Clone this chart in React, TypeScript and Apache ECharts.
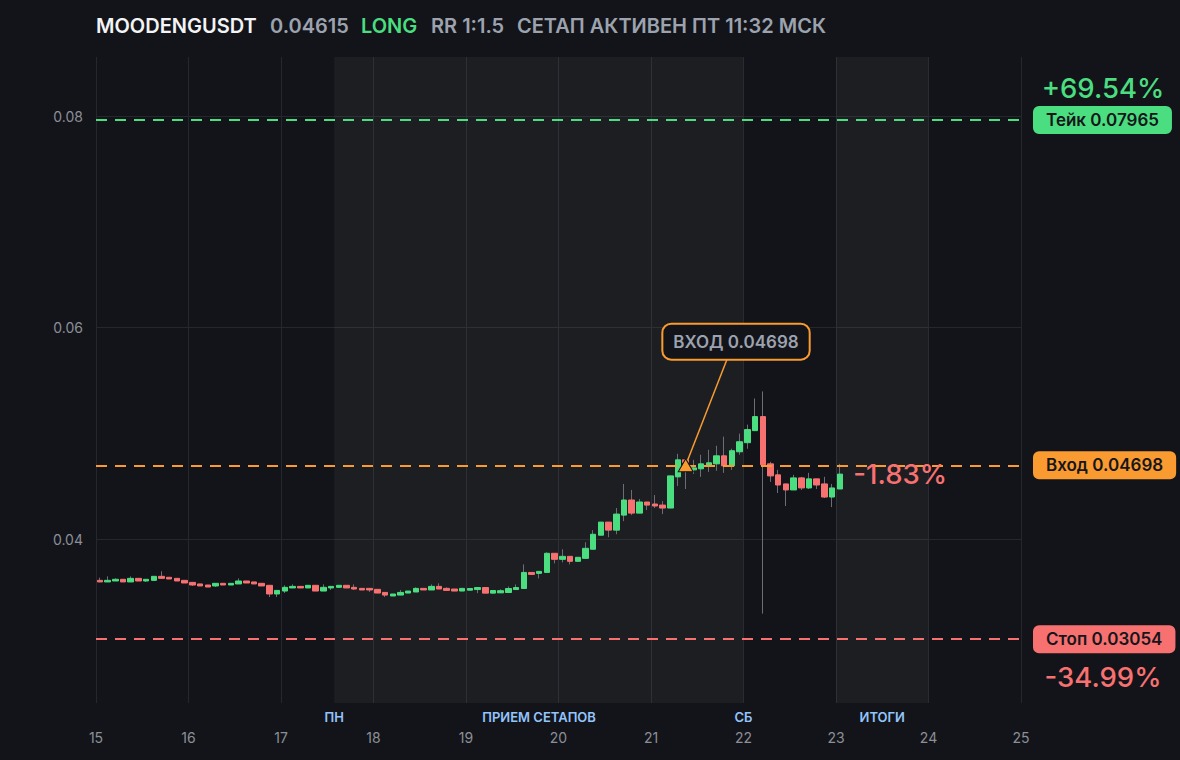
import React, { useEffect, useRef } from "react";
import * as echarts from "echarts";

// ---- header texts ----
const SYMBOL = "MOODENGUSDT";
const LAST_PRICE = 0.04615;
const SIDE = "LONG";
const RR_TEXT = "RR 1:1.5";
const STATUS_TEXT = "СЕТАП АКТИВЕН ПТ 11:32 МСК";

// ---- levels ----
const TAKE = 0.07965;
const ENTRY = 0.04698;
const STOP = 0.03054;
const TAKE_PCT = "+69.54%";
const STOP_PCT = "-34.99%";
const PNL_PCT = "-1.83%";
const ENTRY_CANDLE = 76; // 0-based index of the entry candle
const NOTE_ANCHOR = [21.822, 0.05702]; // where the entry note sits (day, price)
const NOTE_CENTER = [21.919, 0.05702];

// ---- axes ----
const DAY_MIN = 15;
const DAY_MAX = 25;
const PRICE_MIN = 0.0245;
const PRICE_MAX = 0.0856;
const priceTicks = [0.04, 0.06, 0.08];

// ---- sessions ----
const sessionAreas = [
  [17.575, 22],
  [23, 24],
];
const sessionMarkAt = [17.575, 19.79, 22, 23.5];
const sessionMarkText = ["ПН", "ПРИЕМ СЕТАПОВ", "СБ", "ИТОГИ"];

// ---- candles (2h) ----
const START_DAY = 15;
const CANDLE_HOURS = 2;
const opens = [
  0.0361, 0.03595, 0.03604, 0.0362, 0.03595, 0.03629, 0.03604, 0.0361, 0.03648, 0.03639, 0.03629, 0.0361,
  0.03591, 0.03576, 0.03566, 0.03557, 0.03582, 0.03566, 0.03576, 0.03604, 0.03595, 0.03582, 0.03563, 0.03481,
  0.03509, 0.03538, 0.03553, 0.03538, 0.03563, 0.03509, 0.03538, 0.03544, 0.03563, 0.03544, 0.03534, 0.03534,
  0.03525, 0.03496, 0.03462, 0.03471, 0.0349, 0.035, 0.03534, 0.03519, 0.03553, 0.03534, 0.03528, 0.03509,
  0.03517, 0.03523, 0.03542, 0.03489, 0.03492, 0.03495, 0.03523, 0.03533, 0.03685, 0.03676, 0.03685, 0.03866,
  0.03809, 0.03837, 0.0379, 0.03818, 0.03904, 0.04037, 0.04161, 0.04085, 0.04227, 0.0437, 0.04246, 0.04351,
  0.04332, 0.04322, 0.04294, 0.04589, 0.0475, 0.04655, 0.04665, 0.047, 0.04712, 0.04788, 0.04693, 0.04826,
  0.04912, 0.05026, 0.05159, 0.04712, 0.04608, 0.04522, 0.04465, 0.04579, 0.04484, 0.0457, 0.04522, 0.04398,
  0.04474,
];
const closes = [
  0.03595, 0.0361, 0.0362, 0.03595, 0.03629, 0.03604, 0.0362, 0.03648, 0.03629, 0.03623, 0.03604, 0.03585,
  0.03566, 0.03557, 0.03547, 0.03582, 0.03566, 0.03582, 0.03604, 0.03585, 0.03576, 0.03557, 0.03481, 0.03515,
  0.03544, 0.03553, 0.03538, 0.03563, 0.03509, 0.03544, 0.03553, 0.03563, 0.03538, 0.03528, 0.03519, 0.03519,
  0.0349, 0.03471, 0.03481, 0.03496, 0.03509, 0.03534, 0.03519, 0.03553, 0.03528, 0.03515, 0.03509, 0.03534,
  0.03533, 0.03542, 0.03489, 0.03514, 0.03512, 0.03533, 0.03542, 0.03685, 0.03666, 0.03695, 0.03866, 0.03809,
  0.03837, 0.0379, 0.03828, 0.03913, 0.04046, 0.04161, 0.04085, 0.04237, 0.0437, 0.04246, 0.04351, 0.04322,
  0.04313, 0.04294, 0.04598, 0.0475, 0.04725, 0.04674, 0.04712, 0.04722, 0.04788, 0.04693, 0.04836, 0.04921,
  0.05036, 0.05159, 0.04703, 0.04598, 0.04512, 0.04465, 0.04579, 0.04484, 0.0457, 0.04512, 0.04398, 0.04484,
  0.04615,
];
const lows = [
  0.03595, 0.03595, 0.03604, 0.03595, 0.03595, 0.03604, 0.03595, 0.0361, 0.03629, 0.03623, 0.03604, 0.03585,
  0.03557, 0.03557, 0.03547, 0.03547, 0.03566, 0.03566, 0.03576, 0.03585, 0.03576, 0.03557, 0.03452, 0.03452,
  0.0349, 0.03538, 0.03538, 0.03538, 0.03509, 0.03509, 0.03519, 0.03544, 0.03538, 0.03519, 0.03519, 0.035,
  0.0349, 0.03452, 0.03462, 0.03471, 0.0349, 0.035, 0.03519, 0.03519, 0.03528, 0.03515, 0.03509, 0.03509,
  0.03517, 0.03489, 0.03489, 0.03489, 0.03492, 0.03495, 0.03523, 0.03533, 0.03666, 0.03628, 0.03685, 0.03771,
  0.0378, 0.03761, 0.0379, 0.03818, 0.03904, 0.04037, 0.04018, 0.04046, 0.0417, 0.04227, 0.04246, 0.04275,
  0.04294, 0.04237, 0.04294, 0.04503, 0.04474, 0.04617, 0.04589, 0.04636, 0.04646, 0.04627, 0.04655, 0.04798,
  0.04855, 0.05026, 0.03295, 0.04541, 0.04436, 0.04313, 0.04465, 0.04465, 0.04474, 0.04474, 0.04389, 0.04303,
  0.04474,
];
const highs = [
  0.03636, 0.03648, 0.03629, 0.0362, 0.03648, 0.03629, 0.0362, 0.03648, 0.03696, 0.03639, 0.03629, 0.0361,
  0.03591, 0.03576, 0.03566, 0.03582, 0.03582, 0.03582, 0.03629, 0.03604, 0.03595, 0.03582, 0.03563, 0.03515,
  0.03563, 0.03572, 0.03553, 0.03563, 0.03563, 0.03572, 0.03553, 0.03563, 0.03563, 0.03572, 0.03534, 0.03534,
  0.03525, 0.03496, 0.03481, 0.03519, 0.03509, 0.03544, 0.03534, 0.03572, 0.03582, 0.03544, 0.03528, 0.03534,
  0.03533, 0.03542, 0.03542, 0.03514, 0.03525, 0.03552, 0.03571, 0.03761, 0.03685, 0.03695, 0.03875, 0.03866,
  0.03904, 0.03837, 0.03828, 0.0397, 0.04085, 0.04161, 0.04161, 0.04294, 0.04522, 0.04465, 0.04379, 0.04351,
  0.04417, 0.0436, 0.04598, 0.04807, 0.0475, 0.0475, 0.04798, 0.04845, 0.04883, 0.04969, 0.04855, 0.04998,
  0.05083, 0.0533, 0.05397, 0.04731, 0.04655, 0.04522, 0.04608, 0.04589, 0.04627, 0.0457, 0.04589, 0.04522,
  0.04712,
];

// ---- colours ----
const BG = "#131419";
const GRID = "#26272c";
const GREEN = "#4ade80";
const RED = "#f87171";
const ORANGE = "#f99b30";
const GREY_TEXT = "#9ca3af";
const AXIS_TEXT = "#8b8f98";
const BLUE_TEXT = "#93c5fd";
const FONT = "Inter";

const candleX = (i: number) => START_DAY + (i * CANDLE_HOURS + CANDLE_HOURS / 2) / 24;

export default function App() {
  const ref = useRef<HTMLDivElement>(null);

  useEffect(() => {
    if (!ref.current) return;
    const chart = echarts.init(ref.current, null, { renderer: "svg" });

    const full = opens.map((o, i) => [candleX(i), o, closes[i], lows[i], highs[i]]);
    const bodies = opens.map((o, i) => [
      candleX(i),
      o,
      closes[i],
      Math.min(o, closes[i]),
      Math.max(o, closes[i]),
    ]);
    const lastX = candleX(opens.length - 1);

    const levelLine = (value: number, color: string, text: string) => ({
      yAxis: value,
      lineStyle: { color, type: [11, 8], width: 2 },
      label: {
        show: true,
        position: "end",
        distance: 12,
        formatter: text,
        backgroundColor: color,
        color: "#15161a",
        fontFamily: FONT,
        fontWeight: 600,
        fontSize: 17,
        lineHeight: 18,
        padding: [5, 13],
        borderRadius: 6,
      },
    });

    const textPoint = (coord: number[], text: string, color: string, extra: any) => ({
      coord,
      symbol: "rect",
      symbolSize: 1,
      itemStyle: { color: "rgba(0,0,0,0)" },
      label: {
        show: true,
        formatter: text,
        color,
        fontFamily: FONT,
        fontSize: 27.5,
        fontWeight: 500,
        ...extra,
      },
    });

    const headerParts = [
      { x: 96, text: SYMBOL, color: "#f3f4f6" },
      { x: 270, text: LAST_PRICE.toFixed(5), color: GREY_TEXT },
      { x: 361, text: SIDE, color: GREEN },
      { x: 431, text: RR_TEXT, color: GREY_TEXT },
      { x: 517, text: STATUS_TEXT, color: GREY_TEXT },
    ];

    chart.setOption({
      animation: false,
      backgroundColor: BG,
      textStyle: { fontFamily: FONT },
      graphic: headerParts.map((p) => ({
        type: "text",
        left: p.x,
        top: 16,
        style: {
          text: p.text,
          fill: p.color,
          fontFamily: FONT,
          fontSize: 20,
          fontWeight: 600,
        },
      })),
      grid: { left: 96, right: 159, top: 57, bottom: 57, containLabel: false },
      xAxis: [
        {
          type: "value",
          min: DAY_MIN,
          max: DAY_MAX,
          interval: 1,
          axisLine: { show: false },
          axisTick: { show: false },
          splitLine: { show: true, lineStyle: { color: GRID, width: 1 } },
          axisLabel: { color: AXIS_TEXT, fontSize: 14, margin: 27, fontFamily: FONT },
        },
        {
          type: "value",
          min: DAY_MIN,
          max: DAY_MAX,
          position: "bottom",
          axisLine: { show: false },
          axisTick: { show: false },
          splitLine: { show: false },
          axisLabel: {
            customValues: sessionMarkAt,
            margin: 7,
            color: BLUE_TEXT,
            fontSize: 13,
            fontWeight: 600,
            fontFamily: FONT,
            formatter: (v: number) => {
              const k = sessionMarkAt.findIndex((a) => Math.abs(a - v) < 1e-6);
              return k >= 0 ? sessionMarkText[k] : "";
            },
          },
        },
      ],
      yAxis: {
        type: "value",
        min: PRICE_MIN,
        max: PRICE_MAX,
        axisLine: { show: false },
        axisTick: { show: false, customValues: priceTicks },
        splitLine: { show: true, lineStyle: { color: GRID, width: 1 } },
        axisLabel: {
          customValues: priceTicks,
          color: AXIS_TEXT,
          fontSize: 14,
          margin: 13,
          fontFamily: FONT,
          formatter: (v: number) => String(Number(v.toFixed(4))),
        },
      },
      series: [
        {
          type: "line",
          data: [],
          z: 1,
          silent: true,
          markArea: {
            silent: true,
            itemStyle: { color: "rgba(255,255,255,0.045)" },
            data: sessionAreas.map(([a, b]) => [{ xAxis: a }, { xAxis: b }]),
          },
        },
        {
          type: "candlestick",
          z: 3,
          silent: true,
          barWidth: 1,
          data: full,
          itemStyle: {
            color: "#6b6e76",
            color0: "#6b6e76",
            borderColor: "#6b6e76",
            borderColor0: "#6b6e76",
            borderWidth: 1,
          },
        },
        {
          type: "candlestick",
          z: 4,
          silent: true,
          clip: false,
          barWidth: 6,
          data: bodies,
          itemStyle: {
            color: GREEN,
            color0: RED,
            borderColor: GREEN,
            borderColor0: RED,
            borderWidth: 1,
          },
          markLine: {
            silent: true,
            symbol: "none",
            precision: 5,
            data: [
              levelLine(TAKE, GREEN, `Тейк ${TAKE.toFixed(5)}`),
              levelLine(ENTRY, ORANGE, `Вход ${ENTRY.toFixed(5)}`),
              levelLine(STOP, RED, `Стоп ${STOP.toFixed(5)}`),
              [
                {
                  coord: [candleX(ENTRY_CANDLE), ENTRY],
                  lineStyle: { color: ORANGE, type: "solid", width: 1.5 },
                  label: { show: false },
                },
                { coord: NOTE_ANCHOR },
              ],
            ],
          },
          markPoint: {
            silent: true,
            data: [
              {
                coord: [candleX(ENTRY_CANDLE), ENTRY],
                symbol: "triangle",
                symbolSize: [15, 13],
                itemStyle: { color: ORANGE, borderColor: BG, borderWidth: 1 },
                label: { show: false },
              },
              {
                coord: NOTE_CENTER,
                symbol: "rect",
                symbolSize: 1,
                itemStyle: { color: "rgba(0,0,0,0)" },
                label: {
                  show: true,
                  position: "top",
                  distance: 0,
                  formatter: `ВХОД ${ENTRY.toFixed(5)}`,
                  color: GREY_TEXT,
                  fontFamily: FONT,
                  fontWeight: 600,
                  fontSize: 17,
                  lineHeight: 18,
                  padding: [8, 10],
                  backgroundColor: BG,
                  borderColor: ORANGE,
                  borderWidth: 2,
                  borderRadius: 8,
                },
              },
              textPoint([DAY_MAX, TAKE], TAKE_PCT, GREEN, { position: "inside", offset: [82, -32] }),
              textPoint([DAY_MAX, STOP], STOP_PCT, RED, { position: "inside", offset: [82, 38] }),
              textPoint([lastX, LAST_PRICE], PNL_PCT, RED, { position: "right", distance: 13 }),
            ],
          },
        },
      ],
    });

    return () => chart.dispose();
  }, []);

  return (
    <div
      ref={ref}
      style={{ position: "absolute", left: 0, top: 0, width: 1180, height: 760 }}
    />
  );
}
